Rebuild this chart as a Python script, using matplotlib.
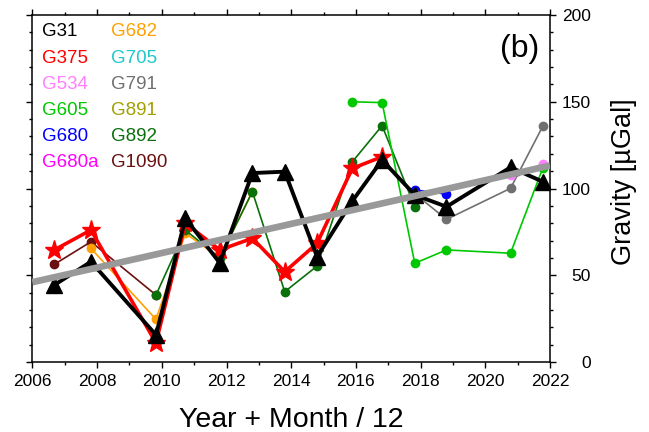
import numpy as np
import matplotlib
matplotlib.use('Agg')
import matplotlib.pyplot as plt
from matplotlib.ticker import MultipleLocator

plt.rcParams['font.family'] = ['Liberation Sans', 'DejaVu Sans']

# campaign epochs (year + month/12)
t = [2006.68, 2007.81, 2009.82, 2010.73, 2011.79, 2012.80, 2013.80,
     2014.80, 2015.89, 2016.81, 2017.82, 2018.80, 2020.78, 2021.78]

g31 = [44.4, 57.8, 15.6, 82.8, 57.1, 108.9, 109.7, 60.7, 92.8, 116.4,
       96.3, 89.5, 112.2, 103.9]
g375 = [64.6, 76.1, 11.0, 80.0, 64.6, 71.3, 52.0, 68.4, 111.6, 118.3]
g682 = [65.5, 24.6, 74.2, 60.0, 98.2]
g1090 = [56.3, 69.3, 38.6]
g892 = [38.6, 76.0, 60.0, 98.2, 40.5, 55.3, 115.4, 136.2, 89.5]
g605 = [150.0, 149.5, 56.9, 64.6, 62.7, 112.0]
g680 = [99.1, 96.8]
g791 = [97.0, 82.2, 100.1, 136.0]
g534 = [107.8, 114.1]

# linear trend end points
trend_t = [2006, 2022]
trend_v = [46.0, 113.2]

names = ['G31', 'G375', 'G534', 'G605', 'G680', 'G680a',
         'G682', 'G705', 'G791', 'G891', 'G892', 'G1090']
colors = ['black', '#ff0000', '#ff80ff', '#00c800', '#0000ff', '#ff00ff',
          '#ffa000', '#20c8c8', '#707070', '#a0a000', '#0a700a', '#6b1010']
col = dict(zip(names, colors))

fig = plt.figure(figsize=(6.49, 4.32), dpi=100)
ax = fig.add_axes([32.4 / 649, 70 / 432, 517.6 / 649, 347 / 432])

thin = dict(lw=1.2, marker='o', ms=6, zorder=2)
ax.plot(t[0:3], g1090, color=col['G1090'], **thin)
ax.plot(t[1:6], g682, color=col['G682'], **thin)
ax.plot(t[2:11], g892, color=col['G892'], **thin)
ax.plot(t[8:], g605, color=col['G605'], **thin)
ax.plot(t[10:12], g680, color=col['G680'], **thin)
ax.plot(t[10:], g791, color=col['G791'], **thin)
ax.plot(t[12:], g534, color=col['G534'], **thin)

ax.plot(t[0:10], g375, color=col['G375'], lw=2.6, marker='*', ms=14, zorder=3)
ax.plot(t, g31, color='black', lw=2.8, marker='^', ms=12, zorder=4)

ax.plot(trend_t, trend_v, color='#999999', lw=4.8, zorder=5,
        solid_capstyle='butt')

ax.set_xlim(2006, 2022)
ax.set_ylim(0, 200)
ax.xaxis.set_major_locator(MultipleLocator(2))
ax.xaxis.set_minor_locator(MultipleLocator(1))
ax.yaxis.set_major_locator(MultipleLocator(50))
ax.yaxis.set_minor_locator(MultipleLocator(10))
ax.tick_params(which='both', direction='out', top=True, right=True,
               left=True, labelleft=False, labelright=True, width=1.0)
ax.tick_params(which='major', length=4.5)
ax.tick_params(which='minor', length=2.5)
ax.tick_params(axis='x', labelsize=12.5, pad=4)
ax.tick_params(axis='y', labelsize=12.5, pad=25)
for lab in ax.get_yticklabels():
    lab.set_horizontalalignment('right')
for s in ax.spines.values():
    s.set_linewidth(1.1)

# station labels
for i, n in enumerate(names):
    c, r = divmod(i, 6)
    ax.text([41.7, 110.7][c] / 649, (432 - [32, 58.5, 84.5, 110.5, 136.5, 162.5][r]) / 432,
            n, color=col[n], fontsize=13.5, va='center', ha='left',
            transform=fig.transFigure)

fig.text(520 / 649, (432 - 49) / 432, '(b)', fontsize=23, ha='center', va='center')
fig.text(291 / 649, 5 / 432, 'Year + Month / 12', fontsize=20.5, ha='center',
         va='baseline')
fig.text(624 / 649, (432 - 182) / 432, 'Gravity [µGal]', fontsize=19.5,
         rotation=90, ha='center', va='center')

fig.savefig('out.png', dpi=100)
